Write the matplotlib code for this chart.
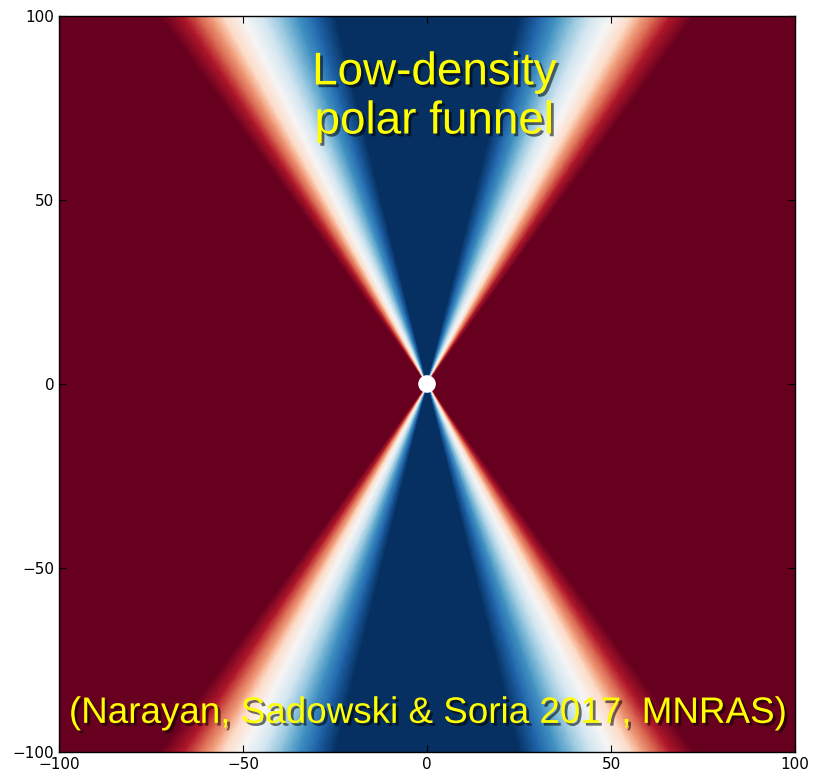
import numpy as np
import matplotlib
matplotlib.use('Agg')
import matplotlib.pyplot as plt
import matplotlib.patheffects as pe
from matplotlib.patches import Circle

# density profile vs angle from the pole (deg), normalised 0 (funnel) .. 1 (disc)
theta_deg = [0, 14.0, 17.0, 19.5, 21.8, 24.0, 26.6, 29.0, 30.3, 32.0, 33.5, 36.0, 90]
density = [0.0, 0.0, 0.1, 0.2, 0.3, 0.4, 0.5, 0.6, 0.7, 0.8, 0.9, 1.0, 1.0]

ticks = [-100, -50, 0, 50, 100]
hole_radius = 2.2
title_text = "Low-density\npolar funnel"
ref_text = "(Narayan, Sadowski & Soria 2017, MNRAS)"

# mirror the quadrant profile round the full circle (azimuth measured from +y)
th = np.array(theta_deg)
dv = np.array(density)
phi = np.concatenate([th, 180 - th[::-1][1:], 180 + th[1:], 360 - th[::-1][1:]])
val = np.concatenate([dv, dv[::-1][1:], dv[1:], dv[::-1][1:]])

r = np.linspace(0, 200, 50)
P, R = np.meshgrid(np.radians(phi), r)
V = np.tile(val, (len(r), 1))
X = R * np.sin(P)
Y = R * np.cos(P)

fig = plt.figure(figsize=(8.13, 7.72), dpi=100)
ax = fig.add_axes([0.0726, 0.0259, 0.9053, 0.9534])
ax.set_facecolor('#67001f')
ax.pcolormesh(X, Y, V, shading='gouraud', cmap='RdBu_r', vmin=0, vmax=1, rasterized=True)
ax.add_patch(Circle((0, 0), hole_radius, color='white', zorder=3))

ax.set_xlim(-100, 100)
ax.set_ylim(-100, 100)
ax.set_xticks(ticks)
ax.set_yticks(ticks)
ax.tick_params(direction='in', top=True, right=True, length=5, labelsize=11, colors='black')
for s in ax.spines.values():
    s.set_linewidth(1.0)

shadow = [pe.SimplePatchShadow(offset=(2, -2), shadow_rgbFace='black', alpha=0.55), pe.Normal()]
ax.text(2, 78, title_text, ha='center', va='center', color='#ffff00', fontsize=33,
        family='Liberation Sans', linespacing=1.15, path_effects=shadow, zorder=5)
ax.text(0, -89.5, ref_text, ha='center', va='center', color='#ffff00', fontsize=26.5,
        family='Liberation Sans', path_effects=shadow, zorder=5)

fig.savefig('out.png', dpi=100)
